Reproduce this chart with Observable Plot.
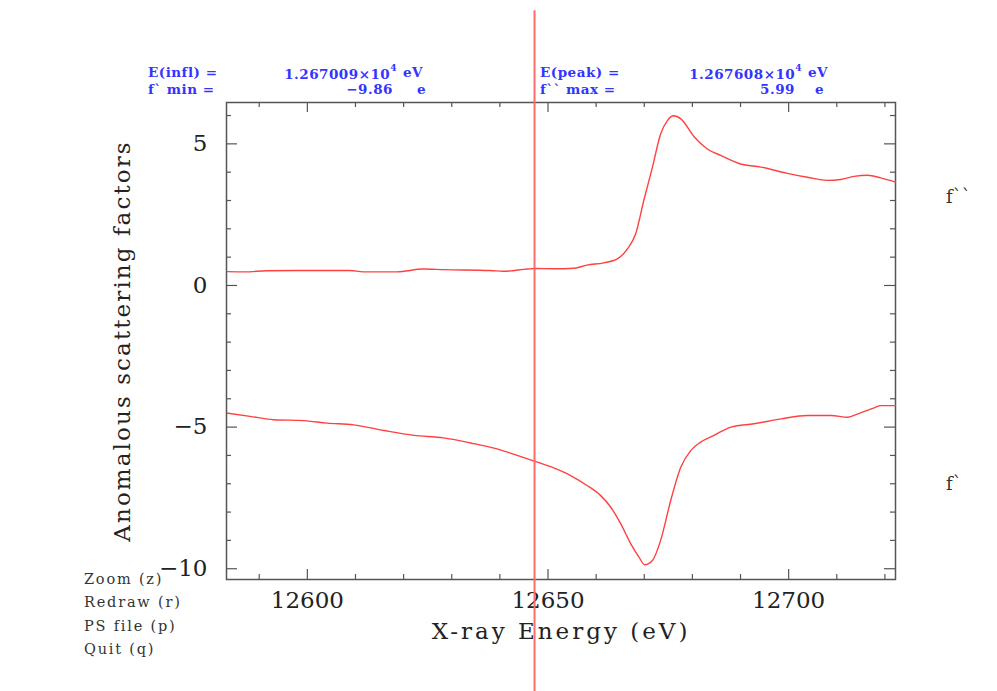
<!DOCTYPE html>
<html>
<head>
<meta charset="utf-8">
<script src="https://cdn.jsdelivr.net/npm/d3@7"></script>
<script src="https://cdn.jsdelivr.net/npm/@observablehq/plot@0.6"></script>
<style>
  html, body { margin: 0; padding: 0; background: #fff; }
  #wrap { position: relative; width: 997px; height: 691px; overflow: hidden; }
  .hdr { position: absolute; font-family: "DejaVu Serif", serif; font-weight: bold; font-size: 13.5px; color: #3434ff; white-space: nowrap; line-height: 1; letter-spacing: 0.5px; }
  .hdr sup { font-size: 9px; position: relative; top: -2px; }
  .menu { position: absolute; left: 84px; font-family: "DejaVu Serif", serif; font-size: 14.5px; color: #333; white-space: nowrap; letter-spacing: 1.8px; line-height: 1; }
  .side { position: absolute; left: 946px; font-family: "DejaVu Serif", serif; font-size: 18px; color: #333; line-height: 1; }
</style>
</head>
<body>
<div id="wrap"></div>
<script>
// f'' (upper curve): energy (eV) and value (electrons)
const fppEnergy = [12583.4, 12587.0, 12591.6, 12600.6, 12608.9, 12611.6, 12618.6, 12624.1, 12628.3, 12638.0, 12640.7, 12645.7, 12647.3, 12651.2, 12655.4, 12658.1, 12661.6, 12664.4, 12666.5, 12668.2, 12669.9, 12671.7, 12673.4, 12674.8, 12676.1, 12677.6, 12680.4, 12683.1, 12685.9, 12690.0, 12694.2, 12699.7, 12703.9, 12708.0, 12710.8, 12713.6, 12716.4, 12719.1, 12722.2];
const fppValue  = [0.49, 0.48, 0.52, 0.53, 0.53, 0.48, 0.48, 0.58, 0.56, 0.53, 0.50, 0.58, 0.60, 0.59, 0.61, 0.72, 0.80, 0.94, 1.29, 1.82, 3.00, 4.18, 5.35, 5.82, 5.99, 5.88, 5.24, 4.82, 4.59, 4.29, 4.18, 3.96, 3.82, 3.71, 3.74, 3.85, 3.89, 3.80, 3.65];

// f' (lower curve)
const fpEnergy = [12583.4, 12588.1, 12593.0, 12599.2, 12604.1, 12609.6, 12615.9, 12622.1, 12628.3, 12633.9, 12639.4, 12643.6, 12647.3, 12651.2, 12654.7, 12658.1, 12660.9, 12663.0, 12665.1, 12667.2, 12668.9, 12670.1, 12671.7, 12673.4, 12675.5, 12677.6, 12679.7, 12681.7, 12684.5, 12688.0, 12692.8, 12698.4, 12703.9, 12708.8, 12712.3, 12714.4, 12717.8, 12719.1, 12722.2];
const fpValue  = [-4.51, -4.62, -4.74, -4.77, -4.86, -4.92, -5.12, -5.29, -5.38, -5.56, -5.77, -6.00, -6.21, -6.44, -6.71, -7.06, -7.41, -7.82, -8.41, -9.12, -9.59, -9.86, -9.71, -9.00, -7.59, -6.41, -5.82, -5.53, -5.29, -5.00, -4.88, -4.71, -4.59, -4.59, -4.65, -4.53, -4.32, -4.24, -4.24];

// cursor line (energy) and its vertical extent in data units
const cursorEnergy = [12647.2];
const cursorExtent = [-14.4, 9.7];

// axes
const xDomain = [12583.2, 12722.2];
const yDomain = [-10.38, 6.46];
const xMajorTicks = [12600, 12650, 12700];
const xMinorTicks = [12590, 12610, 12620, 12630, 12640, 12660, 12670, 12680, 12690, 12710, 12720];
const yMajorTicks = [-10, -5, 0, 5];
const yMinorTicks = [-9, -8, -7, -6, -4, -3, -2, -1, 1, 2, 3, 4, 6];
const xLabel = "X-ray Energy (eV)";
const yLabel = "Anomalous scattering factors";

// texts
const headerLeft = {k1: "E(infl) =", v1: "1.267009×10", e1: "4", u1: "eV", k2: "f` min =", v2: "−9.86", u2: "e"};
const headerRight = {k1: "E(peak) =", v1: "1.267608×10", e1: "4", u1: "eV", k2: "f`` max =", v2: "5.99", u2: "e"};
const menuItems = ["Zoom (z)", "Redraw (r)", "PS file (p)", "Quit (q)"];
const curveNames = ["f``", "f`"];

const fpp = fppEnergy.map((e, i) => ({e, v: fppValue[i]}));
const fp = fpEnergy.map((e, i) => ({e, v: fpValue[i]}));

const W = 997, H = 691, mL = 226, mR = 102, mT = 102, mB = 112;
const fw = W - mL - mR, fh = H - mT - mB;
const red = "#ff4040";
const axisCol = "#555";

const chart = Plot.plot({
  width: W, height: H,
  marginLeft: mL, marginRight: mR, marginTop: mT, marginBottom: mB,
  style: {fontFamily: "DejaVu Serif, serif", color: "#222", background: "#fff"},
  x: {domain: xDomain},
  y: {domain: yDomain},
  marks: [
    Plot.frame({stroke: axisCol, strokeWidth: 1.5}),
    // inward ticks, bottom & top
    Plot.tickX(xMajorTicks, {x: d => d, insetTop: fh - 10, stroke: axisCol, strokeWidth: 1.2}),
    Plot.tickX(xMajorTicks, {x: d => d, insetBottom: fh - 10, stroke: axisCol, strokeWidth: 1.2}),
    Plot.tickX(xMinorTicks, {x: d => d, insetTop: fh - 5, stroke: axisCol, strokeWidth: 1.2}),
    Plot.tickX(xMinorTicks, {x: d => d, insetBottom: fh - 5, stroke: axisCol, strokeWidth: 1.2}),
    // inward ticks, left & right
    Plot.tickY(yMajorTicks, {y: d => d, insetRight: fw - 11, stroke: axisCol, strokeWidth: 1.2}),
    Plot.tickY(yMajorTicks, {y: d => d, insetLeft: fw - 11, stroke: axisCol, strokeWidth: 1.2}),
    Plot.tickY(yMinorTicks, {y: d => d, insetRight: fw - 5, stroke: axisCol, strokeWidth: 1.2}),
    Plot.tickY(yMinorTicks, {y: d => d, insetLeft: fw - 5, stroke: axisCol, strokeWidth: 1.2}),
    Plot.axisX(xMajorTicks, {tickSize: 0, tickPadding: 12, fontSize: 23, label: null, tickFormat: d => String(d)}),
    Plot.axisY(yMajorTicks, {tickSize: 0, tickPadding: 19, fontSize: 23, label: null}),
    Plot.text([xLabel], {text: d => d, frameAnchor: "bottom", dy: 59, fontSize: 23, fill: "#222"}),
    Plot.text([yLabel], {text: d => d, frameAnchor: "left", textAnchor: "middle", dx: -104, rotate: -90, fontSize: 23, fill: "#222"}),
    Plot.line(fpp, {x: "e", y: "v", stroke: red, strokeWidth: 1.4, curve: "monotone-x"}),
    Plot.line(fp, {x: "e", y: "v", stroke: red, strokeWidth: 1.4, curve: "monotone-x"}),
    Plot.ruleX(cursorEnergy, {x: d => d, y1: cursorExtent[0], y2: cursorExtent[1], stroke: "#ff6b6b", strokeWidth: 2})
  ]
});

// widen the axis titles (Hershey-like spacing)
chart.querySelectorAll("text").forEach(t => {
  if (t.textContent === yLabel) t.setAttribute("letter-spacing", "2.1");
  if (t.textContent === xLabel) t.setAttribute("letter-spacing", "3");
});

const wrap = document.getElementById("wrap");
wrap.appendChild(chart);

function addSpan(cls, text, left, top, opts = {}) {
  const s = document.createElement("div");
  s.className = cls;
  s.style.top = top + "px";
  if (opts.right != null) { s.style.left = "auto"; s.style.right = (W - opts.right) + "px"; }
  else s.style.left = left + "px";
  if (opts.html) s.innerHTML = text; else s.textContent = text;
  wrap.appendChild(s);
  return s;
}

function header(h, x0, valRight, unitLeft, valRight2, unitLeft2) {
  addSpan("hdr", h.k1, x0, 66);
  addSpan("hdr", h.v1 + "<sup>" + h.e1 + "</sup>", null, 66, {right: valRight, html: true});
  addSpan("hdr", h.u1, unitLeft, 66);
  addSpan("hdr", h.k2, x0, 83);
  addSpan("hdr", h.v2, null, 83, {right: valRight2});
  addSpan("hdr", h.u2, unitLeft2, 83);
}
header(headerLeft, 148, 397, 403, 393, 417);
header(headerRight, 540, 802, 808, 795, 815);

menuItems.forEach((m, i) => addSpan("menu", m, 84, 572 + i * 23.3));
addSpan("side", curveNames[0], 946, 188);
addSpan("side", curveNames[1], 946, 475);
</script>
</body>
</html>
